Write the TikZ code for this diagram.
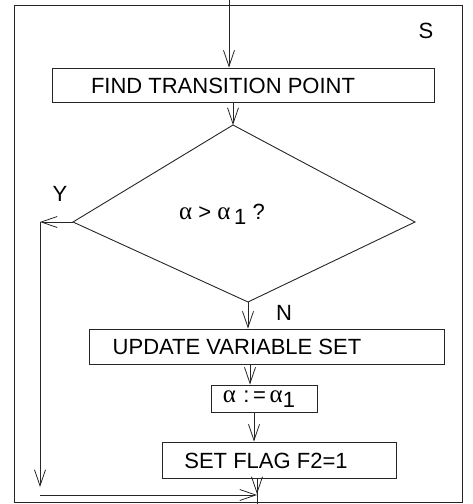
\documentclass[tikz,border=0pt]{standalone}
\usepackage{fontspec}
\setmainfont{Liberation Sans}
\newfontfamily\greekfont{Liberation Serif}
\usetikzlibrary{arrows.meta}
\newcommand{\alp}{{\greekfont\fontsize{25}{25}\selectfont α}}
\begin{document}
\begin{tikzpicture}[x=1pt,y=-1pt,
  line width=0.9pt, draw=black!85,
  flow/.style={draw=black!85, -{Straight Barb[length=16pt,width=11pt,line width=0.8pt]}},
  box/.style={draw=black!85, rectangle, inner sep=0pt},
  lbl/.style={font=\fontsize{22}{22}\selectfont, inner sep=0pt, text=black}]
\useasboundingbox (0,0) rectangle (472,504);
% outer frame of block S
\draw (14,5) rectangle (462,502);
\node[lbl] (s) at (426,31) {S};
% entry
\coordinate (in) at (229,0);
% process boxes
\node[box, minimum width=382pt, minimum height=34pt] (b1) at (243,85) {};
\node[lbl] (t1) at (223,86) {FIND TRANSITION POINT};
\node[box, minimum width=355pt, minimum height=35pt] (b2) at (266.5,346.5) {};
\node[lbl] (t2) at (237,347) {UPDATE VARIABLE SET};
\node[box, minimum width=106pt, minimum height=27pt] (b3) at (264,398.5) {};
\node[lbl] (t3) at (259,399) {\alp\,\,:\,=\,\alp\raisebox{-5pt}{1}};
\node[box, minimum width=234pt, minimum height=36pt] (b4) at (279,460) {};
\node[lbl] (t4) at (266,461) {SET FLAG F2=1};
% decision
\coordinate (dt) at (233,125);
\coordinate (dl) at (73,222);
\coordinate (dr) at (415,222);
\coordinate (db) at (248,302);
\draw (dt) -- (dr) -- (db) -- (dl) -- cycle;
\node[lbl] (q) at (222,214) {\alp\ > \alp\,\raisebox{-5pt}{1} ?};
\node[lbl] (y) at (60,194) {Y};
\node[lbl] (n) at (284,313) {N};
% exit and return path
\coordinate (yl) at (40,222);
\coordinate (yb) at (40,487);
\coordinate (yc) at (40,495);
\coordinate (ye) at (257,495);
\coordinate (out) at (257,504);
% connectors
\draw[flow] (in) -- (in |- b1.north);
\draw[flow] (b1.south -| dt) -- (dt);
\draw[flow] (dl) -- (yl);
\draw[flow] (yl) -- (yb);
\draw[flow] (yc) -- (ye);
\draw[flow] (db) -- (db |- b2.north);
\draw[flow] (b2.south -| 250,0) -- (b3.north -| 250,0);
\draw[flow] (b3.south -| 254,0) -- (b4.north -| 254,0);
\draw (b4.south -| out) -- (out);
\draw[flow] (b4.south -| out) -- (257,494);
\end{tikzpicture}
\end{document}
